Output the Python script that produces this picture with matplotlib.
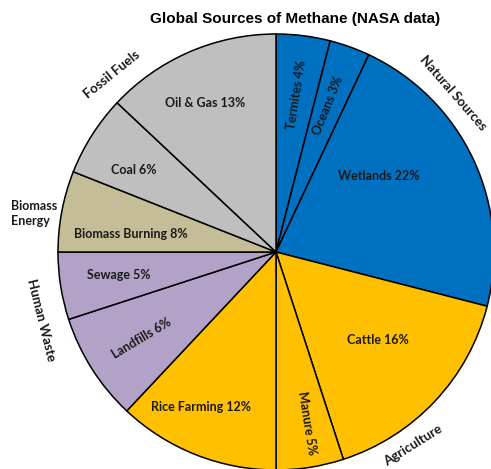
import numpy as np
import matplotlib.pyplot as plt

plt.rcParams['font.family'] = ['Lato', 'DejaVu Sans']

# slices, clockwise from 12 o'clock
labels = ['Termites 4%', 'Oceans 3%', 'Wetlands 22%', 'Cattle 16%', 'Manure 5%',
          'Rice Farming 12%', 'Landfills 6%', 'Sewage 5%', 'Biomass Burning 8%',
          'Coal 6%', 'Oil & Gas 13%']
# sizes as drawn in the picture (landfills / biomass wedges differ from their printed %)
sizes = [4, 3, 22, 16, 5, 12, 8, 5, 6, 6, 13]
groups = ['nat', 'nat', 'nat', 'agr', 'agr', 'agr', 'hum', 'hum', 'bio', 'fos', 'fos']

group_colors = {'nat': '#0070C0', 'agr': '#FFC000', 'hum': '#B3A2C7',
                'bio': '#C4BD97', 'fos': '#BFBFBF'}

# label placement: fraction of radius, angle offset from wedge middle, rotation
lab_r = [0.727, 0.715, 0.587, 0.62, 0.80, 0.79, 0.734, 0.73, 0.67, 0.753, 0.757]
lab_off = [-0.4, 0.2, 11.2, 2.4, 1.3, -4.4, 0.3, -0.7, 3.9, 2.6, 2.0]
lab_rot = [81, 68, 0, 0, -81, 0, 31, 0, 0, 0, 0]

# group names outside the pie: text, angle (deg), radius fraction, rotation
group_names = ['Natural Sources', 'Agriculture', 'Human Waste', 'Fossil Fuels']
group_ang = [41.9, -54.6, 196.1, 132.8]
group_rad = [1.09, 1.086, 1.12, 1.107]
group_rot = [-49, 32, -76, 39]

W, H = 491, 469
cx, cy, R = 276, H - 252, 218

fig = plt.figure(figsize=(W / 100, H / 100), dpi=100)
ax = fig.add_axes([0, 0, 1, 1])

wedges, _ = ax.pie(sizes, colors=[group_colors[g] for g in groups],
                   startangle=90, counterclock=False, center=(cx, cy), radius=R,
                   wedgeprops=dict(edgecolor='black', linewidth=1.1))

for w, lab, rf, off, rot in zip(wedges, labels, lab_r, lab_off, lab_rot):
    mid = np.deg2rad((w.theta1 + w.theta2) / 2 + off)
    ax.text(cx + rf * R * np.cos(mid), cy + rf * R * np.sin(mid), lab,
            ha='center', va='center', rotation=rot, fontsize=9,
            fontweight='bold', color='#1a1a1a')

for name, a, rf, rot in zip(group_names, group_ang, group_rad, group_rot):
    t = np.deg2rad(a)
    ax.text(cx + rf * R * np.cos(t), cy + rf * R * np.sin(t), name,
            ha='center', va='center', rotation=rot, fontsize=9.5,
            fontweight='bold', color='#1a1a1a')

ax.text(11, H - 213, 'Biomass\nEnergy', ha='left', va='center', fontsize=9,
        fontweight='bold', color='#1a1a1a', linespacing=1.3)

ax.set_xlim(0, W)
ax.set_ylim(0, H)
ax.set_aspect('equal')
ax.axis('off')

fig.text(295 / W, 1 - 19 / H, 'Global Sources of Methane (NASA data)',
         ha='center', va='center', fontsize=11, fontweight='bold',
         family=['Liberation Sans', 'DejaVu Sans'])

plt.savefig('out.png', dpi=100)
